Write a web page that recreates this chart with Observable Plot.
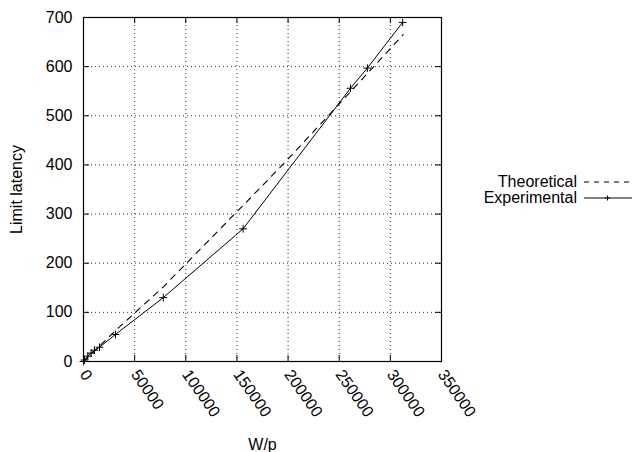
<!DOCTYPE html>
<html>
<head>
<meta charset="utf-8">
<script src="https://cdn.jsdelivr.net/npm/d3@7"></script>
<script src="https://cdn.jsdelivr.net/npm/@observablehq/plot@0.6"></script>
<style>
  body { margin: 0; background: white; }
  #wrap { position: relative; width: 632px; height: 452px; font-family: "Liberation Sans", Arial, sans-serif; }
  #legend { position: absolute; left: 430px; top: 174px; font-size: 16px; }
  .row { display: flex; align-items: center; height: 16px; }
  .row span { width: 147px; text-align: right; padding-right: 7px; }
</style>
</head>
<body>
<div id="wrap"></div>
<script>
const xTicks = [0, 50000, 100000, 150000, 200000, 250000, 300000, 350000];
const yTicks = [0, 100, 200, 300, 400, 500, 600, 700];

const theoX = [0, 15625, 31250, 78125, 156250, 200000, 250000, 312500];
const theoY = [0, 31, 63, 152, 318, 412, 524, 665];

const expX = [0, 1000, 4200, 7400, 10700, 15600, 31250, 78000, 156000, 261000, 277500, 312000];
const expY = [0, 3, 11, 17, 23, 29, 55, 130, 270, 556, 597, 690];

const theoretical = theoX.map((x, i) => ({x, y: theoY[i]}));
const experimental = expX.map((x, i) => ({x, y: expY[i]}));

const tx = 5860, ty = 12.2;

const chart = Plot.plot({
  width: 632, height: 452,
  marginLeft: 83, marginRight: 191, marginTop: 17, marginBottom: 91,
  x: {domain: [0, 350000]},
  y: {domain: [0, 700]},
  style: {fontFamily: "'Liberation Sans', Arial, sans-serif", fontSize: "16px", color: "black", background: "white"},
  marks: [
    Plot.gridX(xTicks.slice(1, -1), {stroke: "black", strokeOpacity: 0.8, strokeDasharray: "1,3", strokeWidth: 1}),
    Plot.gridY(yTicks.slice(1, -1), {stroke: "black", strokeOpacity: 0.8, strokeDasharray: "1,3", strokeWidth: 1}),
    Plot.axisX(xTicks, {tickSize: 0, tickPadding: 10, tickRotate: 55, tickFormat: d => String(d),
      label: "W/p", labelAnchor: "center", labelArrow: "none", labelOffset: 88}),
    Plot.axisY(yTicks, {tickSize: 0, tickPadding: 11, tickFormat: d => String(d),
      label: "Limit latency", labelAnchor: "center", labelArrow: "none", labelOffset: 73}),
    Plot.ruleX(xTicks, {x: d => d, y1: 0, y2: ty, stroke: "black"}),
    Plot.ruleX(xTicks, {x: d => d, y1: 700 - ty, y2: 700, stroke: "black"}),
    Plot.ruleY(yTicks, {y: d => d, x1: 0, x2: tx, stroke: "black"}),
    Plot.ruleY(yTicks, {y: d => d, x1: 350000 - tx, x2: 350000, stroke: "black"}),
    Plot.frame({stroke: "black", strokeWidth: 1.2}),
    Plot.line(theoretical, {x: "x", y: "y", stroke: "black", strokeWidth: 1.1, strokeDasharray: "6,6"}),
    Plot.line(experimental, {x: "x", y: "y", stroke: "black", strokeWidth: 1}),
    Plot.dot(experimental, {x: "x", y: "y", symbol: "plus", r: 2.6, stroke: "black", strokeWidth: 1})
  ]
});

const wrap = document.getElementById("wrap");
wrap.appendChild(chart);

const legendItems = [
  {label: "Theoretical", dash: "5,5", marker: false},
  {label: "Experimental", dash: null, marker: true}
];
const legend = document.createElement("div");
legend.id = "legend";
for (const it of legendItems) {
  const row = document.createElement("div");
  row.className = "row";
  const sp = document.createElement("span");
  sp.textContent = it.label;
  row.appendChild(sp);
  const svg = d3.create("svg").attr("width", 48).attr("height", 16);
  svg.append("line").attr("x1", 0).attr("x2", 48).attr("y1", 8).attr("y2", 8)
    .attr("stroke", "black").attr("stroke-width", 1)
    .attr("stroke-dasharray", it.dash);
  if (it.marker) {
    svg.append("path").attr("d", "M21,8h5M23.5,5.5v5").attr("stroke", "black").attr("stroke-width", 1);
  }
  row.appendChild(svg.node());
  legend.appendChild(row);
}
wrap.appendChild(legend);
</script>
</body>
</html>
